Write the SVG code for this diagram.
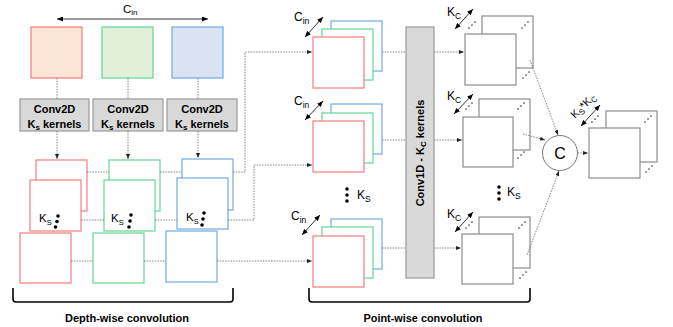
<svg xmlns="http://www.w3.org/2000/svg" width="673" height="327" viewBox="0 0 673 327">
<style>
  text { font-family: "Liberation Sans", Arial, sans-serif; fill: #000; }
  .b { font-weight: bold; }
  .lbl { font-size: 12px; }
  .sub { font-size: 8.5px; }
  .red { fill: #fff; stroke: #f47c7c; stroke-width: 1.2; }
  .grn { fill: #fff; stroke: #62d594; stroke-width: 1.2; }
  .blu { fill: #fff; stroke: #72a9dd; stroke-width: 1.2; }
  .redf { fill: #fce4d6; stroke: #f47c7c; stroke-width: 1.2; }
  .grnf { fill: #e2f0d9; stroke: #62d594; stroke-width: 1.2; }
  .bluf { fill: #dae3f3; stroke: #72a9dd; stroke-width: 1.2; }
  .gry { fill: #fff; stroke: #8c8c8c; stroke-width: 1.2; }
  .box { fill: #d9d9d9; stroke: #999; stroke-width: 1.2; }
  .dot { fill: none; stroke: #666; stroke-width: 0.8; stroke-dasharray: 1.5 1.2; }
  .dota { fill: none; stroke: #666; stroke-width: 0.8; stroke-dasharray: 1.5 1.2; marker-end: url(#dh); }
  .dbl { fill: none; stroke: #000; stroke-width: 0.8; marker-start: url(#ah); marker-end: url(#ah); }
  .brk { fill: none; stroke: #000; stroke-width: 1.6; }
  .bd { fill: #000; }
  .sd { fill: #444; }
</style>
<defs>
  <marker id="ah" markerWidth="6" markerHeight="5" refX="6" refY="2.5" orient="auto-start-reverse" markerUnits="userSpaceOnUse">
    <path d="M0,0 L6,2.5 L0,5 z" fill="#000"/>
  </marker>
  <marker id="dh" markerWidth="5" markerHeight="4" refX="5" refY="2" orient="auto" markerUnits="userSpaceOnUse">
    <path d="M0,0 L5,2 L0,4 z" fill="#222"/>
  </marker>
  <g id="sdots">
    <circle cx="-3" cy="3" r="0.85"/>
    <circle cx="0" cy="0" r="0.85"/>
    <circle cx="3" cy="-3" r="0.85"/>
  </g>
</defs>

<!-- Top C_in arrow -->
<g id="cin-top">
  <line class="dbl" x1="57" y1="19" x2="208" y2="19"/>
  <text x="123" y="13" font-size="11.5">C<tspan font-size="8" dy="2">in</tspan></text>
</g>

<!-- Input feature maps -->
<g id="in-red"><rect class="redf" x="31" y="27" width="51" height="51"/></g>
<g id="in-green"><rect class="grnf" x="102" y="27" width="51" height="51"/></g>
<g id="in-blue"><rect class="bluf" x="172" y="27" width="51" height="51"/></g>

<!-- Conv2D boxes -->
<g id="conv2d-1">
  <rect class="box" x="20" y="99" width="69" height="32"/>
  <text class="b" x="54.5" y="113" font-size="11" text-anchor="middle">Conv2D</text>
  <text class="b" x="54.5" y="127.5" font-size="11" text-anchor="middle">K<tspan font-size="8" dy="2">s</tspan><tspan dy="-2"> kernels</tspan></text>
</g>
<g id="conv2d-2">
  <rect class="box" x="93" y="99" width="70" height="32"/>
  <text class="b" x="128" y="113" font-size="11" text-anchor="middle">Conv2D</text>
  <text class="b" x="128" y="127.5" font-size="11" text-anchor="middle">K<tspan font-size="8" dy="2">s</tspan><tspan dy="-2"> kernels</tspan></text>
</g>
<g id="conv2d-3">
  <rect class="box" x="167" y="99" width="70" height="32"/>
  <text class="b" x="202" y="113" font-size="11" text-anchor="middle">Conv2D</text>
  <text class="b" x="202" y="127.5" font-size="11" text-anchor="middle">K<tspan font-size="8" dy="2">s</tspan><tspan dy="-2"> kernels</tspan></text>
</g>

<!-- Depth-wise output stacks -->
<g id="dw-red">
  <rect class="red" x="36" y="160" width="51" height="51"/>
  <rect class="red" x="30" y="180" width="51" height="51"/>
  <text x="39" y="222" font-size="11.5">K<tspan font-size="7.5" dy="3">S</tspan></text>
  <circle class="bd" cx="58" cy="216" r="1.8"/><circle class="bd" cx="57" cy="221.5" r="1.8"/><circle class="bd" cx="55.5" cy="227" r="1.8"/>
  <rect class="red" x="20" y="233" width="51" height="50"/>
</g>
<g id="dw-green">
  <rect class="grn" x="109" y="160" width="51" height="51"/>
  <rect class="grn" x="104" y="180" width="51" height="51"/>
  <text x="111" y="222" font-size="11.5">K<tspan font-size="7.5" dy="3">S</tspan></text>
  <circle class="bd" cx="131" cy="215" r="1.8"/><circle class="bd" cx="130" cy="221" r="1.8"/><circle class="bd" cx="129" cy="227" r="1.8"/>
  <rect class="grn" x="93" y="233" width="51" height="50"/>
</g>
<g id="dw-blue">
  <rect class="blu" x="182" y="159" width="51" height="51"/>
  <rect class="blu" x="177" y="178" width="51" height="51"/>
  <text x="186" y="221" font-size="11.5">K<tspan font-size="7.5" dy="3">S</tspan></text>
  <circle class="bd" cx="204" cy="213" r="1.8"/><circle class="bd" cx="203" cy="219" r="1.8"/><circle class="bd" cx="202" cy="225" r="1.8"/>
  <rect class="blu" x="166" y="231" width="51" height="51"/>
</g>

<!-- Point-wise input stacks -->
<g id="pw-stack-1">
  <rect class="blu" x="331" y="21" width="51" height="50"/>
  <rect class="grn" x="322" y="29" width="51" height="51"/>
  <rect class="red" x="313" y="37" width="51" height="51"/>
  <line class="dbl" x1="305" y1="37" x2="323" y2="17"/>
  <text class="lbl" x="294" y="21">C<tspan class="sub" dy="3">in</tspan></text>
</g>
<g id="pw-stack-2">
  <rect class="blu" x="331" y="104" width="51" height="50"/>
  <rect class="grn" x="322" y="113" width="51" height="50"/>
  <rect class="red" x="313" y="121" width="51" height="51"/>
  <line class="dbl" x1="305" y1="120" x2="323" y2="101"/>
  <text class="lbl" x="294" y="105">C<tspan class="sub" dy="3">in</tspan></text>
</g>
<g id="pw-ks">
  <circle class="bd" cx="347" cy="189" r="1.8"/><circle class="bd" cx="347" cy="195" r="1.8"/><circle class="bd" cx="347" cy="201" r="1.8"/>
  <text class="lbl" x="357" y="199">K<tspan class="sub" dy="3">S</tspan></text>
</g>
<g id="pw-stack-3">
  <rect class="blu" x="331" y="219" width="51" height="50"/>
  <rect class="grn" x="322" y="227" width="51" height="51"/>
  <rect class="red" x="313" y="236" width="51" height="51"/>
  <line class="dbl" x1="302" y1="235" x2="320" y2="215"/>
  <text class="lbl" x="291" y="220">C<tspan class="sub" dy="3">in</tspan></text>
</g>

<!-- Conv1D bar -->
<g id="conv1d">
  <rect class="box" x="406" y="27" width="28" height="251"/>
  <text class="b" font-size="11" text-anchor="middle" transform="translate(424,153) rotate(-90)">Conv1D - K<tspan font-size="8" dy="2">C</tspan><tspan dy="-2"> kernels</tspan></text>
</g>

<!-- K_C stacks -->
<g id="kc-stack-1" class="sd">
  <rect class="gry" x="482" y="16" width="51" height="52"/>
  <rect class="gry" x="465" y="34" width="51" height="51"/>
  <line class="dbl" x1="455" y1="29" x2="473" y2="9"/>
  <text class="lbl" x="447" y="16">K<tspan class="sub" dy="3">C</tspan></text>
  <use href="#sdots" x="472" y="25"/><use href="#sdots" x="525" y="25"/><use href="#sdots" x="526" y="75"/>
</g>
<g id="kc-stack-2" class="sd">
  <rect class="gry" x="479" y="99" width="51" height="51"/>
  <rect class="gry" x="463" y="117" width="50" height="50"/>
  <line class="dbl" x1="454" y1="114" x2="473" y2="94"/>
  <text class="lbl" x="447" y="100">K<tspan class="sub" dy="3">C</tspan></text>
  <use href="#sdots" x="469" y="106"/><use href="#sdots" x="521" y="106"/><use href="#sdots" x="521" y="155"/>
</g>
<g id="kc-ks">
  <circle class="bd" cx="499" cy="187" r="1.8"/><circle class="bd" cx="499" cy="193" r="1.8"/><circle class="bd" cx="499" cy="199" r="1.8"/>
  <text class="lbl" x="507" y="196">K<tspan class="sub" dy="3">S</tspan></text>
</g>
<g id="kc-stack-3" class="sd">
  <rect class="gry" x="479" y="217" width="51" height="51"/>
  <rect class="gry" x="462" y="234" width="51" height="50"/>
  <line class="dbl" x1="455" y1="232" x2="473" y2="212"/>
  <text class="lbl" x="447" y="218">K<tspan class="sub" dy="3">C</tspan></text>
  <use href="#sdots" x="469" y="225"/><use href="#sdots" x="522" y="225"/><use href="#sdots" x="523" y="275"/>
</g>

<!-- Concatenation -->
<g id="concat">
  <circle cx="560" cy="153" r="17.5" fill="#fff" stroke="#777" stroke-width="1"/>
  <text x="560" y="159" font-size="16" text-anchor="middle">C</text>
</g>

<!-- Output stack -->
<g id="out-stack" class="sd">
  <rect class="gry" x="606" y="111" width="51" height="51"/>
  <rect class="gry" x="589" y="128" width="51" height="50"/>
  <line class="dbl" x1="581" y1="126" x2="600" y2="105"/>
  <text font-size="11" transform="translate(575,119) rotate(-45)">K<tspan font-size="8" dy="2.5">S</tspan><tspan dy="-2.5">*K</tspan><tspan font-size="8" dy="2.5">C</tspan></text>
  <use href="#sdots" x="595" y="119"/><use href="#sdots" x="648" y="119"/><use href="#sdots" x="649" y="169"/>
</g>

<!-- Connectors -->
<g id="connectors">
  <line class="dot" x1="57" y1="78" x2="57" y2="99"/>
  <line class="dot" x1="128" y1="78" x2="128" y2="99"/>
  <line class="dot" x1="198" y1="78" x2="198" y2="99"/>
  <line class="dota" x1="57" y1="131" x2="57" y2="159"/>
  <line class="dota" x1="128" y1="131" x2="128" y2="159"/>
  <line class="dota" x1="198" y1="131" x2="198" y2="158"/>

  <line class="dot" x1="87" y1="172" x2="109" y2="172"/>
  <line class="dot" x1="160" y1="172" x2="182" y2="172"/>
  <polyline class="dota" points="233,172 245,172 245,52 312,52"/>

  <line class="dot" x1="81" y1="220" x2="104" y2="220"/>
  <line class="dot" x1="155" y1="220" x2="177" y2="220"/>
  <polyline class="dota" points="228,220 254,220 254,165 312,165"/>

  <line class="dot" x1="71" y1="261" x2="93" y2="261"/>
  <line class="dot" x1="144" y1="261" x2="166" y2="261"/>
  <line class="dota" x1="217" y1="261" x2="312" y2="261"/>

  <line class="dot" x1="382" y1="52" x2="406" y2="52"/>
  <line class="dot" x1="382" y1="140" x2="406" y2="140"/>
  <line class="dot" x1="382" y1="248" x2="406" y2="248"/>

  <line class="dota" x1="434" y1="52" x2="464" y2="52"/>
  <line class="dota" x1="434" y1="140" x2="462" y2="140"/>
  <line class="dota" x1="434" y1="248" x2="461" y2="248"/>

  <line class="dota" x1="530" y1="60" x2="558" y2="135"/>
  <line class="dota" x1="523" y1="134" x2="545" y2="140"/>
  <line class="dota" x1="527" y1="255" x2="559" y2="171"/>
  <line class="dota" x1="577.5" y1="153" x2="588" y2="153"/>
</g>

<!-- Brackets and captions -->
<g id="depthwise-caption">
  <path class="brk" d="M13,288 L13,299 Q13,302 16,302 L230,302 Q233,302 233,299 L233,288"/>
  <text class="b" x="127" y="322" font-size="11.5" text-anchor="middle" textLength="124" lengthAdjust="spacingAndGlyphs">Depth-wise convolution</text>
</g>
<g id="pointwise-caption">
  <path class="brk" d="M309,288 L309,299 Q309,302 312,302 L527,302 Q530,302 530,299 L530,288"/>
  <text class="b" x="423" y="322" font-size="11.5" text-anchor="middle" textLength="119" lengthAdjust="spacingAndGlyphs">Point-wise convolution</text>
</g>
</svg>
